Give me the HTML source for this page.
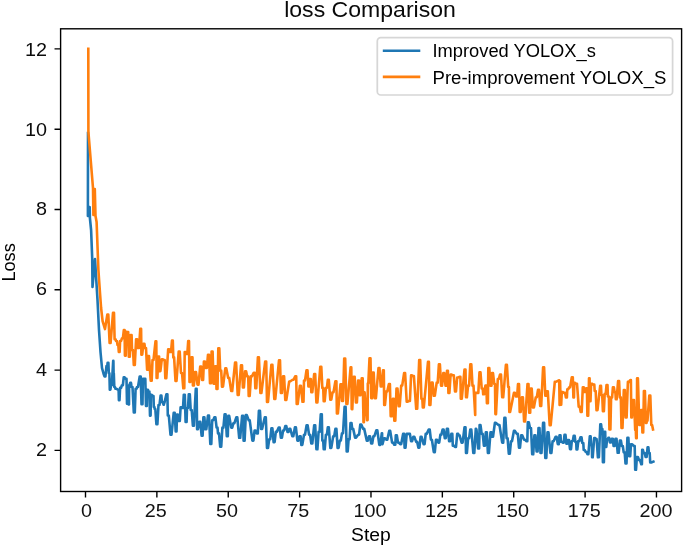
<!DOCTYPE html>
<html><head><meta charset="utf-8"><title>loss Comparison</title>
<style>html,body{margin:0;padding:0;background:#fff;overflow:hidden;} svg{display:block;will-change:transform;} text{font-family:"Liberation Sans", sans-serif;}</style>
</head><body>
<svg width="685" height="547" viewBox="0 0 685 547">
<rect x="0" y="0" width="685" height="547" fill="#ffffff"/>
<path d="M88.0,133.0 L87.9,216.0 L89.7,207.0 L89.9,218.0 L91.1,230.0 L92.2,258.0 L92.5,287.0 L95.0,259.0 L97.5,300.0 L99.0,330.0 L100.5,352.0 L102.0,368.0 L103.7,374.2 L104.6,376.5 L105.4,376.5 L106.5,366.0 L107.3,366.0 L107.6,362.8 L108.4,362.8 L108.8,373.3 L109.4,373.3 L109.8,389.7 L110.4,389.7 L111.0,385.2 L111.8,385.2 L113.2,360.9 L113.4,360.9 L113.6,373.3 L113.8,373.3 L114.3,387.0 L114.9,387.0 L115.5,388.8 L116.5,388.8 L118.0,389.7 L118.6,389.7 L118.9,400.2 L119.5,400.2 L120.1,387.9 L121.1,387.9 L121.9,385.2 L122.9,385.2 L123.7,377.4 L124.7,377.4 L125.7,378.8 L126.5,378.8 L127.0,403.8 L127.8,403.8 L128.6,404.4 L129.0,404.4 L129.1,385.2 L129.5,385.2 L130.2,382.9 L131.0,382.9 L131.5,387.0 L132.5,387.0 L133.8,412.4 L134.8,412.4 L135.6,388.8 L136.6,388.8 L137.0,387.0 L138.0,387.0 L139.7,376.5 L140.7,376.5 L141.5,404.2 L142.5,404.2 L142.9,378.8 L143.9,378.8 L144.3,378.8 L145.3,378.8 L146.0,406.0 L146.8,406.0 L147.1,389.7 L147.9,389.7 L148.4,391.6 L149.4,391.6 L150.0,415.6 L150.6,415.6 L150.9,394.7 L151.5,394.7 L152.9,396.0 L153.5,396.0 L153.8,407.0 L154.4,407.0 L154.7,409.0 L155.3,409.0 L156.4,424.2 L157.4,424.2 L158.5,405.0 L159.5,405.0 L160.6,395.6 L161.4,395.6 L161.9,402.0 L162.7,402.0 L163.5,404.6 L163.9,404.6 L164.0,403.0 L164.4,403.0 L166.4,394.2 L167.4,394.2 L167.8,415.5 L168.8,415.5 L170.5,434.7 L171.5,434.7 L173.7,412.8 L174.7,412.8 L175.7,431.5 L176.5,431.5 L177.0,414.6 L177.8,414.6 L178.8,421.0 L179.8,421.0 L180.6,407.3 L181.6,407.3 L182.0,408.0 L183.0,408.0 L183.8,394.7 L184.8,394.7 L185.6,421.9 L186.6,421.9 L187.0,408.0 L188.0,408.0 L188.8,394.2 L189.8,394.2 L190.7,410.0 L191.7,410.0 L192.9,425.6 L193.9,425.6 L195.8,388.7 L196.6,388.7 L197.1,429.3 L197.9,429.3 L199.3,421.9 L200.3,421.9 L201.6,435.6 L202.6,435.6 L203.4,417.4 L204.4,417.4 L205.3,429.3 L206.3,429.3 L208.0,415.5 L209.0,415.5 L210.3,443.9 L211.3,443.9 L212.2,420.2 L213.2,420.2 L214.4,417.3 L215.4,417.3 L216.6,427.6 L217.5,427.6 L218.0,433.4 L219.0,433.4 L220.2,446.6 L221.2,446.6 L222.4,427.6 L223.4,427.6 L224.6,414.4 L225.6,414.4 L226.8,436.3 L227.8,436.3 L228.3,415.9 L229.2,415.9 L231.2,427.6 L232.2,427.6 L233.4,423.2 L234.4,423.2 L236.3,417.3 L237.3,417.3 L239.2,437.8 L240.2,437.8 L242.1,415.9 L243.1,415.9 L243.6,440.7 L244.6,440.7 L245.8,415.1 L246.8,415.1 L248.7,420.2 L249.7,420.2 L252.4,440.7 L253.4,440.7 L254.6,430.5 L255.6,430.5 L256.8,433.4 L257.8,433.4 L258.9,410.7 L259.9,410.7 L261.1,429.0 L262.1,429.0 L264.8,417.3 L265.8,417.3 L267.0,448.0 L268.0,448.0 L269.2,439.3 L270.2,439.3 L271.4,428.3 L272.4,428.3 L273.6,442.2 L274.6,442.2 L275.8,431.9 L276.8,431.9 L278.7,427.6 L279.7,427.6 L280.9,437.8 L281.9,437.8 L283.1,430.5 L284.1,430.5 L285.3,426.1 L286.3,426.1 L287.5,431.9 L288.5,431.9 L289.3,428.9 L290.3,428.9 L292.3,436.2 L293.3,436.2 L294.9,427.4 L295.9,427.4 L297.4,440.6 L298.4,440.6 L299.6,436.2 L300.6,436.2 L301.3,444.9 L302.3,444.9 L304.0,434.7 L305.0,434.7 L306.6,425.2 L307.6,425.2 L309.1,434.7 L310.1,434.7 L311.3,443.5 L312.3,443.5 L314.2,425.2 L315.2,425.2 L316.4,449.3 L317.4,449.3 L318.6,431.8 L319.6,431.8 L320.8,414.2 L321.8,414.2 L322.3,440.6 L323.2,440.6 L323.7,449.3 L324.7,449.3 L325.9,434.7 L326.9,434.7 L327.8,427.4 L328.8,427.4 L330.3,447.9 L331.3,447.9 L333.2,436.2 L334.2,436.2 L335.4,428.9 L336.4,428.9 L337.6,447.9 L338.6,447.9 L339.8,440.6 L340.8,440.6 L342.0,433.2 L343.0,433.2 L344.6,406.9 L345.6,406.9 L346.7,451.5 L347.7,451.5 L348.6,439.1 L349.6,439.1 L350.5,423.0 L351.5,423.0 L352.2,428.9 L353.2,428.9 L355.1,437.6 L356.1,437.6 L358.1,434.7 L359.1,434.7 L360.3,424.5 L361.3,424.5 L363.2,428.9 L364.2,428.9 L366.8,440.6 L367.8,440.6 L369.0,436.2 L370.0,436.2 L371.2,443.5 L372.2,443.5 L373.4,436.2 L374.4,436.2 L376.3,430.3 L377.3,430.3 L379.3,444.9 L380.3,444.9 L381.8,433.2 L382.1,433.2 L382.2,444.1 L382.5,444.1 L384.1,438.2 L385.1,438.2 L386.3,439.7 L387.3,439.7 L389.2,430.9 L390.2,430.9 L392.1,442.6 L393.1,442.6 L394.3,444.8 L395.3,444.8 L395.8,435.3 L396.8,435.3 L398.0,442.6 L399.0,442.6 L400.2,444.1 L401.2,444.1 L403.1,433.9 L404.1,433.9 L404.6,447.7 L405.5,447.7 L406.7,433.9 L407.7,433.9 L408.9,433.9 L409.9,433.9 L411.1,441.2 L412.1,441.2 L413.3,436.8 L414.3,436.8 L416.2,441.9 L417.2,441.9 L418.4,447.7 L419.4,447.7 L420.6,436.8 L421.6,436.8 L423.6,444.1 L424.6,444.1 L425.7,433.9 L426.7,433.9 L428.7,429.5 L429.7,429.5 L430.9,439.7 L431.9,439.7 L433.8,452.1 L434.8,452.1 L436.0,439.7 L437.0,439.7 L438.2,442.6 L439.2,442.6 L440.4,434.6 L441.4,434.6 L442.6,429.5 L443.6,429.5 L444.8,438.2 L445.8,438.2 L446.9,428.7 L447.9,428.7 L449.1,441.2 L450.1,441.2 L451.3,433.9 L452.3,433.9 L452.8,445.6 L453.8,445.6 L455.0,447.0 L456.0,447.0 L457.2,433.9 L458.2,433.9 L458.7,435.3 L459.6,435.3 L461.6,442.6 L462.6,442.6 L464.5,427.3 L465.5,427.3 L466.0,452.9 L466.9,452.9 L468.1,438.2 L469.1,438.2 L470.3,429.5 L471.3,429.5 L473.3,452.9 L474.3,452.9 L475.8,428.7 L476.1,428.7 L476.2,429.5 L476.5,429.5 L478.1,448.5 L479.1,448.5 L479.6,425.1 L480.5,425.1 L481.7,433.9 L482.7,433.9 L483.9,445.6 L484.9,445.6 L485.8,432.4 L486.8,432.4 L487.9,452.9 L488.9,452.9 L490.5,432.4 L491.5,432.4 L492.0,436.8 L493.0,436.8 L494.9,422.9 L495.9,422.9 L498.5,425.1 L499.5,425.1 L502.2,442.6 L503.2,442.6 L504.4,417.8 L505.4,417.8 L506.6,438.2 L507.6,438.2 L508.8,453.6 L509.8,453.6 L511.0,441.2 L512.0,441.2 L513.9,430.9 L514.9,430.9 L516.8,433.9 L517.8,433.9 L519.0,447.7 L520.0,447.7 L521.2,435.3 L522.2,435.3 L524.1,439.7 L525.1,439.7 L526.3,441.2 L527.3,441.2 L527.8,422.2 L528.8,422.2 L530.0,428.0 L531.0,428.0 L532.2,454.3 L533.2,454.3 L534.4,435.3 L535.4,435.3 L536.6,451.4 L537.6,451.4 L538.5,428.0 L539.5,428.0 L540.5,452.9 L541.5,452.9 L543.1,422.9 L544.1,422.9 L545.3,458.0 L546.3,458.0 L547.5,432.4 L548.5,432.4 L550.4,452.9 L551.4,452.9 L552.6,441.2 L553.6,441.2 L555.6,436.8 L556.6,436.8 L557.8,444.1 L558.8,444.1 L559.5,435.4 L560.5,435.4 L560.9,441.8 L561.9,441.8 L562.7,442.7 L563.7,442.7 L564.5,434.9 L565.5,434.9 L566.4,443.6 L567.4,443.6 L568.0,440.0 L569.0,440.0 L570.0,449.1 L571.0,449.1 L571.8,441.0 L572.8,441.0 L573.7,435.8 L574.7,435.8 L575.4,442.0 L576.2,442.0 L576.5,449.5 L577.3,449.5 L578.3,441.0 L579.3,441.0 L580.5,437.2 L581.5,437.2 L582.3,443.0 L583.3,443.0 L583.7,450.0 L584.7,450.0 L585.7,452.0 L586.7,452.0 L587.4,454.1 L588.4,454.1 L589.8,436.3 L590.6,436.3 L591.2,445.0 L591.8,445.0 L592.1,457.3 L592.7,457.3 L594.2,438.1 L595.2,438.1 L595.6,439.0 L596.6,439.0 L597.9,457.3 L598.9,457.3 L600.3,424.4 L601.1,424.4 L601.6,429.0 L602.4,429.0 L602.9,462.3 L603.9,462.3 L604.4,431.7 L605.2,431.7 L605.5,446.9 L606.3,446.9 L607.1,439.0 L607.9,439.0 L608.3,437.8 L609.1,437.8 L610.0,442.4 L611.0,442.4 L611.8,438.7 L612.8,438.7 L613.6,446.0 L614.6,446.0 L615.5,438.7 L616.5,438.7 L617.7,452.8 L618.7,452.8 L619.9,440.5 L620.9,440.5 L621.8,446.0 L622.8,446.0 L623.7,452.4 L624.7,452.4 L625.5,463.4 L626.5,463.4 L627.4,437.8 L628.4,437.8 L629.2,456.1 L630.2,456.1 L631.0,444.2 L632.0,444.2 L633.9,446.0 L634.7,446.0 L635.2,469.8 L636.0,469.8 L636.9,457.0 L637.9,457.0 L639.0,460.0 L640.0,460.0 L641.3,464.3 L641.9,464.3 L642.2,449.7 L642.8,449.7 L643.7,453.0 L644.7,453.0 L645.6,457.0 L646.6,457.0 L647.6,447.4 L648.4,447.4 L648.9,453.0 L649.7,453.0 L650.2,462.5 L651.2,462.5 L653.4,461.6" fill="none" stroke="#1f77b4" stroke-width="2.6" stroke-linejoin="round" stroke-linecap="square"/>
<path d="M88.3,48.9 L88.4,132.0 L93.0,188.0 L93.4,215.0 L94.8,189.0 L95.5,216.0 L96.6,222.0 L98.4,270.0 L100.0,293.0 L101.1,308.0 L102.6,321.2 L105.0,329.1 L107.3,314.6 L108.3,314.6 L109.6,342.9 L110.6,342.9 L113.0,312.8 L114.0,312.8 L114.6,339.2 L115.6,339.2 L116.0,341.0 L117.0,341.0 L117.5,345.0 L118.3,345.0 L118.8,352.0 L119.6,352.0 L120.1,341.0 L121.1,341.0 L121.9,338.3 L122.9,338.3 L123.8,330.1 L124.6,330.1 L124.9,355.6 L125.7,355.6 L126.2,331.9 L127.0,331.9 L127.4,332.0 L128.2,332.0 L128.8,356.6 L129.8,356.6 L130.6,335.1 L131.6,335.1 L132.0,350.0 L133.0,350.0 L133.8,365.0 L134.8,365.0 L136.1,339.2 L137.1,339.2 L138.0,348.0 L139.0,348.0 L140.3,328.7 L141.1,328.7 L141.4,354.7 L142.2,354.7 L143.4,343.8 L144.4,343.8 L145.0,348.0 L146.0,348.0 L147.1,369.6 L147.9,369.6 L148.2,356.0 L149.0,356.0 L150.7,380.6 L151.7,380.6 L152.5,360.0 L153.5,360.0 L155.5,341.4 L156.3,341.4 L156.6,378.0 L157.4,378.0 L158.3,356.5 L159.1,356.5 L159.6,371.1 L160.4,371.1 L161.8,359.3 L162.8,359.3 L163.7,360.0 L164.7,360.0 L165.3,378.2 L166.3,378.2 L168.2,349.2 L169.2,349.2 L170.0,352.0 L171.0,352.0 L172.0,340.5 L172.8,340.5 L173.3,357.4 L174.1,357.4 L175.5,381.0 L176.5,381.0 L178.7,351.5 L179.7,351.5 L181.0,373.0 L182.0,373.0 L183.3,388.3 L184.3,388.3 L184.7,352.0 L185.7,352.0 L186.3,354.0 L187.3,354.0 L188.2,341.0 L189.0,341.0 L189.5,382.0 L190.3,382.0 L191.5,357.4 L192.5,357.4 L192.9,385.5 L193.9,385.5 L195.0,372.0 L196.0,372.0 L197.5,384.6 L198.5,384.6 L200.2,366.6 L201.2,366.6 L202.1,380.0 L203.1,380.0 L203.9,361.5 L204.9,361.5 L205.8,368.0 L206.8,368.0 L208.0,354.7 L209.0,354.7 L210.0,383.3 L211.0,383.3 L211.6,351.5 L212.6,351.5 L213.6,383.7 L214.6,383.7 L215.1,366.2 L216.1,366.2 L216.5,389.0 L217.5,389.0 L218.3,348.3 L219.3,348.3 L220.2,370.6 L221.2,370.6 L222.0,386.6 L223.0,386.6 L225.3,368.4 L226.3,368.4 L228.2,377.9 L229.2,377.9 L231.2,391.0 L232.2,391.0 L235.1,362.5 L236.1,362.5 L237.7,395.0 L238.7,395.0 L241.0,365.4 L242.0,365.4 L242.9,387.4 L243.9,387.4 L245.1,371.3 L246.1,371.3 L247.2,376.4 L248.2,376.4 L248.7,396.0 L249.7,396.0 L250.9,376.4 L251.9,376.4 L253.8,372.7 L254.8,372.7 L255.3,388.1 L256.3,388.1 L257.9,357.4 L258.9,357.4 L260.4,393.0 L261.4,393.0 L265.2,361.5 L266.2,361.5 L267.0,402.0 L268.0,402.0 L271.4,364.7 L272.4,364.7 L274.3,399.0 L275.3,399.0 L279.0,360.3 L280.0,360.3 L280.9,393.0 L281.9,393.0 L283.1,376.4 L284.1,376.4 L285.3,400.0 L286.3,400.0 L289.2,381.5 L289.6,381.5 L289.9,381.3 L290.4,381.3 L292.6,379.8 L293.6,379.8 L295.2,376.2 L296.2,376.2 L296.7,404.0 L297.7,404.0 L299.9,385.7 L300.9,385.7 L302.5,401.8 L303.5,401.8 L304.0,380.6 L305.0,380.6 L306.5,370.3 L307.5,370.3 L308.4,386.4 L309.3,386.4 L309.8,379.1 L310.8,379.1 L311.3,392.3 L312.3,392.3 L314.2,374.0 L315.2,374.0 L316.4,402.5 L317.4,402.5 L320.3,366.7 L321.3,366.7 L322.3,387.9 L323.2,387.9 L323.7,401.1 L324.7,401.1 L325.9,387.9 L326.9,387.9 L327.8,379.8 L328.8,379.8 L330.3,399.6 L331.3,399.6 L332.5,392.3 L333.5,392.3 L335.4,381.3 L336.4,381.3 L336.9,413.5 L337.9,413.5 L340.5,384.2 L341.5,384.2 L342.0,401.0 L343.0,401.0 L344.2,358.6 L345.2,358.6 L346.4,404.0 L347.4,404.0 L350.6,367.4 L351.3,367.4 L351.7,409.1 L352.3,409.1 L353.7,376.9 L354.7,376.9 L355.9,402.5 L356.9,402.5 L358.1,380.6 L359.0,380.6 L359.5,395.2 L360.5,395.2 L361.7,378.4 L362.7,378.4 L363.5,422.3 L363.9,422.3 L364.2,392.3 L364.6,392.3 L367.0,420.1 L367.6,420.1 L367.8,383.5 L368.3,383.5 L369.5,358.3 L370.5,358.3 L371.2,398.1 L372.2,398.1 L372.7,372.5 L373.7,372.5 L374.9,398.1 L375.9,398.1 L378.5,368.1 L379.5,368.1 L380.7,386.4 L381.7,386.4 L383.0,370.3 L383.8,370.3 L384.2,405.0 L385.0,405.0 L386.3,391.4 L387.3,391.4 L388.9,384.1 L389.9,384.1 L390.7,416.3 L391.7,416.3 L392.9,398.7 L393.8,398.7 L394.3,420.7 L395.3,420.7 L396.5,388.5 L397.5,388.5 L398.7,406.1 L399.7,406.1 L401.2,385.6 L402.2,385.6 L404.1,373.1 L405.1,373.1 L406.7,401.6 L407.7,401.6 L408.9,400.9 L409.9,400.9 L411.1,375.3 L412.1,375.3 L412.9,376.1 L413.9,376.1 L416.2,408.8 L417.2,408.8 L419.2,360.0 L420.2,360.0 L421.4,398.7 L422.3,398.7 L422.8,407.5 L423.8,407.5 L428.0,361.9 L428.9,361.9 L429.4,405.0 L430.4,405.0 L431.6,382.6 L432.6,382.6 L433.8,395.8 L434.8,395.8 L436.7,382.6 L437.7,382.6 L438.9,364.4 L439.9,364.4 L441.1,385.6 L442.1,385.6 L443.3,373.1 L444.3,373.1 L445.5,385.6 L446.5,385.6 L447.0,370.9 L447.9,370.9 L448.4,392.9 L449.4,392.9 L450.6,374.6 L451.6,374.6 L452.8,375.3 L453.8,375.3 L455.0,391.4 L456.0,391.4 L457.2,377.5 L458.2,377.5 L459.4,376.8 L460.4,376.8 L460.8,398.7 L461.8,398.7 L464.5,369.5 L465.5,369.5 L466.0,397.3 L466.9,397.3 L468.1,385.6 L469.1,385.6 L470.3,364.4 L471.3,364.4 L472.5,385.6 L473.5,385.6 L475.2,414.9 L475.2,392.9 L477.3,392.9 L478.3,392.9 L479.5,372.4 L480.5,372.4 L481.7,388.5 L482.7,388.5 L483.2,394.3 L484.2,394.3 L485.4,385.6 L486.4,385.6 L486.9,403.2 L487.9,403.2 L488.3,368.0 L489.3,368.0 L490.5,385.6 L491.5,385.6 L492.0,373.1 L493.0,373.1 L494.3,384.1 L495.0,384.1 L495.4,414.1 L496.0,414.1 L497.8,379.0 L498.8,379.0 L500.0,374.6 L501.0,374.6 L502.2,397.3 L503.2,397.3 L505.9,364.8 L506.9,364.8 L508.2,387.0 L508.9,387.0 L509.3,411.9 L510.1,411.9 L513.9,392.9 L514.9,392.9 L516.1,396.5 L517.1,396.5 L518.0,384.1 L519.0,384.1 L519.7,411.9 L520.7,411.9 L521.9,397.3 L522.9,397.3 L524.1,421.4 L525.1,421.4 L527.5,384.1 L528.5,384.1 L529.2,412.7 L530.2,412.7 L530.7,388.5 L531.7,388.5 L532.9,407.5 L533.9,407.5 L535.8,397.3 L536.8,397.3 L538.0,389.9 L539.0,389.9 L540.2,406.0 L541.2,406.0 L543.1,367.3 L544.1,367.3 L545.3,395.8 L546.3,395.8 L546.8,391.4 L547.8,391.4 L549.7,425.1 L550.7,425.1 L554.8,381.9 L555.8,381.9 L558.8,380.4 L559.2,380.4 L559.6,405.0 L559.8,405.0 L559.9,381.0 L560.1,381.0 L560.6,404.7 L561.2,404.7 L561.8,392.0 L562.8,392.0 L564.1,392.9 L565.1,392.9 L565.9,397.4 L566.9,397.4 L567.3,389.2 L568.3,389.2 L569.1,387.4 L570.1,387.4 L571.8,377.3 L572.8,377.3 L573.4,397.4 L574.0,397.4 L574.3,382.8 L574.9,382.8 L576.0,383.7 L577.0,383.7 L578.7,406.6 L579.7,406.6 L580.7,412.0 L581.7,412.0 L582.8,387.4 L583.8,387.4 L584.5,392.0 L585.5,392.0 L586.1,388.3 L586.9,388.3 L587.4,415.7 L588.2,415.7 L589.0,378.2 L589.6,378.2 L589.9,401.1 L590.5,401.1 L591.1,383.7 L591.9,383.7 L593.3,384.6 L594.3,384.6 L594.7,391.0 L595.7,391.0 L596.5,410.2 L597.5,410.2 L600.2,385.7 L601.0,385.7 L601.4,395.0 L602.2,395.0 L602.9,411.1 L603.9,411.1 L604.7,393.8 L605.7,393.8 L606.5,385.1 L607.5,385.1 L607.9,396.5 L608.9,396.5 L609.4,429.5 L610.4,429.5 L611.1,397.4 L612.1,397.4 L612.9,387.4 L613.9,387.4 L614.6,392.0 L615.4,392.0 L615.8,399.3 L616.6,399.3 L618.1,381.0 L619.1,381.0 L619.8,397.4 L620.8,397.4 L621.5,428.0 L622.5,428.0 L623.8,390.1 L624.8,390.1 L625.6,417.5 L626.6,417.5 L627.9,381.9 L628.9,381.9 L630.3,380.1 L630.9,380.1 L631.3,417.5 L631.9,417.5 L633.0,400.0 L634.0,400.0 L635.2,430.0 L635.8,430.0 L636.1,438.2 L636.7,438.2 L637.1,378.2 L637.9,378.2 L639.3,425.0 L640.3,425.0 L641.1,410.0 L641.9,410.0 L642.4,432.4 L643.2,432.4 L643.9,391.0 L644.9,391.0 L645.9,423.0 L646.5,423.0 L646.9,420.7 L647.5,420.7 L649.3,395.6 L650.3,395.6 L651.3,425.0 L652.1,425.0 L653.0,429.5" fill="none" stroke="#ff7f0e" stroke-width="2.6" stroke-linejoin="round" stroke-linecap="square"/>
<rect x="60.6" y="28.8" width="621.00" height="462.70" fill="none" stroke="#000" stroke-width="1.39" stroke-linejoin="miter"/>
<path d="M85.50,491.5 V497.58 M156.87,491.5 V497.58 M228.24,491.5 V497.58 M299.61,491.5 V497.58 M370.98,491.5 V497.58 M442.35,491.5 V497.58 M513.72,491.5 V497.58 M585.09,491.5 V497.58 M656.46,491.5 V497.58" stroke="#000" stroke-width="1.39" fill="none"/>
<path d="M60.6,450.40 H54.52 M60.6,370.10 H54.52 M60.6,289.80 H54.52 M60.6,209.50 H54.52 M60.6,129.20 H54.52 M60.6,48.90 H54.52" stroke="#000" stroke-width="1.39" fill="none"/>
<text x="86.6" y="516.7" font-family="Liberation Sans, sans-serif" font-size="18.4" text-anchor="middle" textLength="11.0" lengthAdjust="spacingAndGlyphs" fill="#121212">0</text>
<text x="155.8" y="516.7" font-family="Liberation Sans, sans-serif" font-size="18.4" text-anchor="middle" textLength="22.0" lengthAdjust="spacingAndGlyphs" fill="#121212">25</text>
<text x="227.0" y="516.7" font-family="Liberation Sans, sans-serif" font-size="18.4" text-anchor="middle" textLength="22.0" lengthAdjust="spacingAndGlyphs" fill="#121212">50</text>
<text x="298.2" y="516.7" font-family="Liberation Sans, sans-serif" font-size="18.4" text-anchor="middle" textLength="22.0" lengthAdjust="spacingAndGlyphs" fill="#121212">75</text>
<text x="369.9" y="516.7" font-family="Liberation Sans, sans-serif" font-size="18.4" text-anchor="middle" textLength="33.0" lengthAdjust="spacingAndGlyphs" fill="#121212">100</text>
<text x="441.4" y="516.7" font-family="Liberation Sans, sans-serif" font-size="18.4" text-anchor="middle" textLength="33.0" lengthAdjust="spacingAndGlyphs" fill="#121212">125</text>
<text x="512.6" y="516.7" font-family="Liberation Sans, sans-serif" font-size="18.4" text-anchor="middle" textLength="33.0" lengthAdjust="spacingAndGlyphs" fill="#121212">150</text>
<text x="584.3" y="516.7" font-family="Liberation Sans, sans-serif" font-size="18.4" text-anchor="middle" textLength="33.0" lengthAdjust="spacingAndGlyphs" fill="#121212">175</text>
<text x="656.1" y="516.7" font-family="Liberation Sans, sans-serif" font-size="18.4" text-anchor="middle" textLength="33.0" lengthAdjust="spacingAndGlyphs" fill="#121212">200</text>
<text x="46.9" y="455.70" font-family="Liberation Sans, sans-serif" font-size="18.4" text-anchor="end" textLength="11.0" lengthAdjust="spacingAndGlyphs" fill="#0c0c0c">2</text>
<text x="46.9" y="375.60" font-family="Liberation Sans, sans-serif" font-size="18.4" text-anchor="end" textLength="11.0" lengthAdjust="spacingAndGlyphs" fill="#0c0c0c">4</text>
<text x="46.9" y="295.10" font-family="Liberation Sans, sans-serif" font-size="18.4" text-anchor="end" textLength="11.0" lengthAdjust="spacingAndGlyphs" fill="#0c0c0c">6</text>
<text x="46.9" y="215.10" font-family="Liberation Sans, sans-serif" font-size="18.4" text-anchor="end" textLength="11.0" lengthAdjust="spacingAndGlyphs" fill="#0c0c0c">8</text>
<text x="46.9" y="135.90" font-family="Liberation Sans, sans-serif" font-size="18.4" text-anchor="end" textLength="22.0" lengthAdjust="spacingAndGlyphs" fill="#0c0c0c">10</text>
<text x="46.9" y="55.85" font-family="Liberation Sans, sans-serif" font-size="18.4" text-anchor="end" textLength="22.0" lengthAdjust="spacingAndGlyphs" fill="#0c0c0c">12</text>
<text x="370.05" y="17.0" font-family="Liberation Sans, sans-serif" font-size="22" text-anchor="middle" textLength="171.75" lengthAdjust="spacingAndGlyphs" fill="#0a0a0a">loss Comparison</text>
<text x="370.9" y="540.6" font-family="Liberation Sans, sans-serif" font-size="18.3" text-anchor="middle" textLength="39.75" lengthAdjust="spacingAndGlyphs" fill="#000">Step</text>
<text transform="translate(14.8,262.4) rotate(-90)" x="0" y="0" font-family="Liberation Sans, sans-serif" font-size="18.3" text-anchor="middle" textLength="38.38" lengthAdjust="spacingAndGlyphs" fill="#000">Loss</text>
<rect x="377.3" y="37.7" width="295.3" height="57.3" rx="3.5" ry="3.5" fill="#ffffff" fill-opacity="0.8" stroke="#cccccc" stroke-opacity="0.8" stroke-width="1.74"/>
<path d="M384.1,50.7 H419.0" stroke="#1f77b4" stroke-width="2.6" stroke-linecap="square"/>
<path d="M384.1,76.9 H419.0" stroke="#ff7f0e" stroke-width="2.6" stroke-linecap="square"/>
<text x="432.5" y="57.3" font-family="Liberation Sans, sans-serif" font-size="18.3" textLength="163.38" lengthAdjust="spacingAndGlyphs" fill="#000">Improved YOLOX_s</text>
<text x="432.5" y="83.8" font-family="Liberation Sans, sans-serif" font-size="18.3" textLength="233.88" lengthAdjust="spacingAndGlyphs" fill="#000">Pre-improvement YOLOX_S</text>
</svg>
</body></html>
